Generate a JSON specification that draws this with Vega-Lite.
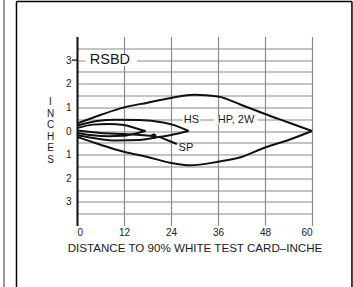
{
  "$schema": "https://vega.github.io/schema/vega-lite/v6.json",
  "width": 235,
  "height": 189,
  "autosize": "none",
  "padding": {"left": 77, "top": 36.5, "right": 41, "bottom": 61.5},
  "background": "white",
  "config": {
    "view": {"stroke": null},
    "font": "Liberation Sans",
    "axis": {"labelFont": "Liberation Sans", "titleFont": "Liberation Sans", "labelColor": "#1a1a1a", "titleColor": "#1a1a1a"}
  },
  "datasets": {
    "curves": [
      {"s": "hp_top", "x": 0, "y": 0.32}, {"s": "hp_top", "x": 6, "y": 0.68}, {"s": "hp_top", "x": 12, "y": 1.0}, {"s": "hp_top", "x": 18, "y": 1.2}, {"s": "hp_top", "x": 24, "y": 1.4}, {"s": "hp_top", "x": 30, "y": 1.53}, {"s": "hp_top", "x": 36, "y": 1.46}, {"s": "hp_top", "x": 42, "y": 1.1}, {"s": "hp_top", "x": 48, "y": 0.72}, {"s": "hp_top", "x": 54, "y": 0.36}, {"s": "hp_top", "x": 60, "y": 0},
      {"s": "hp_bot", "x": 0, "y": -0.25}, {"s": "hp_bot", "x": 6, "y": -0.58}, {"s": "hp_bot", "x": 12, "y": -0.88}, {"s": "hp_bot", "x": 18, "y": -1.1}, {"s": "hp_bot", "x": 24, "y": -1.35}, {"s": "hp_bot", "x": 29, "y": -1.45}, {"s": "hp_bot", "x": 36, "y": -1.3}, {"s": "hp_bot", "x": 42, "y": -1.1}, {"s": "hp_bot", "x": 48, "y": -0.7}, {"s": "hp_bot", "x": 54, "y": -0.38}, {"s": "hp_bot", "x": 60, "y": 0},
      {"s": "hs_top", "x": 0, "y": 0.22}, {"s": "hs_top", "x": 5, "y": 0.42}, {"s": "hs_top", "x": 10, "y": 0.48}, {"s": "hs_top", "x": 16, "y": 0.47}, {"s": "hs_top", "x": 22, "y": 0.36}, {"s": "hs_top", "x": 25, "y": 0.24}, {"s": "hs_top", "x": 28.5, "y": 0},
      {"s": "hs_bot", "x": 0, "y": -0.18}, {"s": "hs_bot", "x": 5, "y": -0.32}, {"s": "hs_bot", "x": 10, "y": -0.4}, {"s": "hs_bot", "x": 16, "y": -0.38}, {"s": "hs_bot", "x": 20, "y": -0.28}, {"s": "hs_bot", "x": 24, "y": -0.17}, {"s": "hs_bot", "x": 28.5, "y": 0},
      {"s": "in_top", "x": 0, "y": 0.12}, {"s": "in_top", "x": 4, "y": 0.27}, {"s": "in_top", "x": 8, "y": 0.3}, {"s": "in_top", "x": 12, "y": 0.25}, {"s": "in_top", "x": 15, "y": 0.12}, {"s": "in_top", "x": 17.5, "y": 0},
      {"s": "in_bot", "x": 0, "y": -0.08}, {"s": "in_bot", "x": 4, "y": -0.18}, {"s": "in_bot", "x": 8, "y": -0.22}, {"s": "in_bot", "x": 12, "y": -0.2}, {"s": "in_bot", "x": 15, "y": -0.1}, {"s": "in_bot", "x": 17.5, "y": 0},
      {"s": "sp", "x": 0, "y": 0.02}, {"s": "sp", "x": 6, "y": -0.08}, {"s": "sp", "x": 12, "y": -0.13}, {"s": "sp", "x": 17, "y": -0.18}, {"s": "sp", "x": 20, "y": -0.22},
      {"s": "lead", "x": 21, "y": -0.25}, {"s": "lead", "x": 25.5, "y": -0.55}
    ],
    "boxes": [
      {"x": 2.2, "x2": 15.3, "y": 2.76, "y2": 3.26},
      {"x": 27.0, "x2": 31.5, "y": 0.3, "y2": 0.64},
      {"x": 35.0, "x2": 46.2, "y": 0.3, "y2": 0.64},
      {"x": 25.8, "x2": 29.8, "y": -0.55, "y2": -0.9}
    ],
    "labels": [
      {"t": "RSBD", "x": 8.4, "y": 3.0, "size": 14.5},
      {"t": "HS", "x": 29.2, "y": 0.47, "size": 11},
      {"t": "HP, 2W", "x": 40.6, "y": 0.47, "size": 11},
      {"t": "SP", "x": 27.8, "y": -0.72, "size": 11}
    ],
    "frame": [
      {"x": -15.45, "x2": -15.45, "y": 5.48, "y2": -6.7, "c": "black"},
      {"x": -15.45, "x2": 70.2, "y": 5.48, "y2": 5.48, "c": "black"},
      {"x": 70.2, "x2": 70.2, "y": 5.48, "y2": -6.7, "c": "black"},
      {"x": -18.64, "x2": -18.64, "y": 5.6, "y2": -6.7, "c": "#777"},
      {"x": -1.3, "x2": 0, "y": 3, "y2": 3, "c": "#333"}
    ],
    "blob": [{"x": 19.6, "y": -0.22}]
  },
  "encoding": {
    "x": {"field": "x", "type": "quantitative", "scale": {"domain": [0, 60], "nice": false, "zero": false},
      "axis": {"values": [0, 12, 24, 36, 48, 60], "grid": true, "gridColor": "#8a8a8a", "gridWidth": 1.2, "domain": false, "ticks": false, "labelPadding": 2, "labelFontSize": 10, "labelOverlap": false, "title": "DISTANCE TO 90% WHITE TEST CARD–INCHE", "titleFontSize": 11.6, "titleFontWeight": "normal", "titlePadding": 5}},
    "y": {"field": "y", "type": "quantitative", "scale": {"domain": [-4, 4], "nice": false, "zero": false},
      "axis": {"values": [-3.5, -3, -2.5, -2, -1.5, -1, -0.5, 0, 0.5, 1, 1.5, 2, 2.5, 3, 3.5], "labelExpr": "datum.value % 1 == 0 ? '' + abs(datum.value) : ''", "labelOverlap": false, "labelBound": false, "grid": true, "gridColor": "#8a8a8a", "gridWidth": 1.2, "domain": true, "domainColor": "#111", "domainWidth": 2, "ticks": false, "labelPadding": 6, "labelFontSize": 10,
        "title": ["I", "N", "C", "H", "E", "S"], "titleAngle": 0, "titleFontSize": 10, "titleFontWeight": "normal", "titleLineHeight": 11.6, "titleAlign": "center", "titleBaseline": "top", "titleX": -27, "titleY": 60}}
  },
  "layer": [
    {
      "data": {"name": "frame"},
      "mark": {"type": "rule", "strokeWidth": 1.5},
      "encoding": {
        "x2": {"field": "x2"},
        "y2": {"field": "y2"},
        "color": {"field": "c", "type": "nominal", "scale": null}
      }
    },
    {
      "data": {"name": "boxes"},
      "mark": {"type": "rect", "color": "white"},
      "encoding": {
        "x2": {"field": "x2"},
        "y2": {"field": "y2"}
      }
    },
    {
      "data": {"name": "curves"},
      "mark": {"type": "line", "interpolate": "monotone", "color": "#111", "strokeWidth": 2},
      "encoding": {
        "detail": {"field": "s", "type": "nominal"}
      }
    },
    {
      "data": {"name": "blob"},
      "mark": {"type": "point", "filled": true, "color": "#111", "size": 30, "opacity": 1},
      "encoding": {}
    },
    {
      "data": {"name": "labels"},
      "mark": {"type": "text", "color": "#1a1a1a", "align": "center", "baseline": "middle"},
      "encoding": {
        "text": {"field": "t"},
        "size": {"field": "size", "type": "quantitative", "scale": null}
      }
    }
  ]
}
